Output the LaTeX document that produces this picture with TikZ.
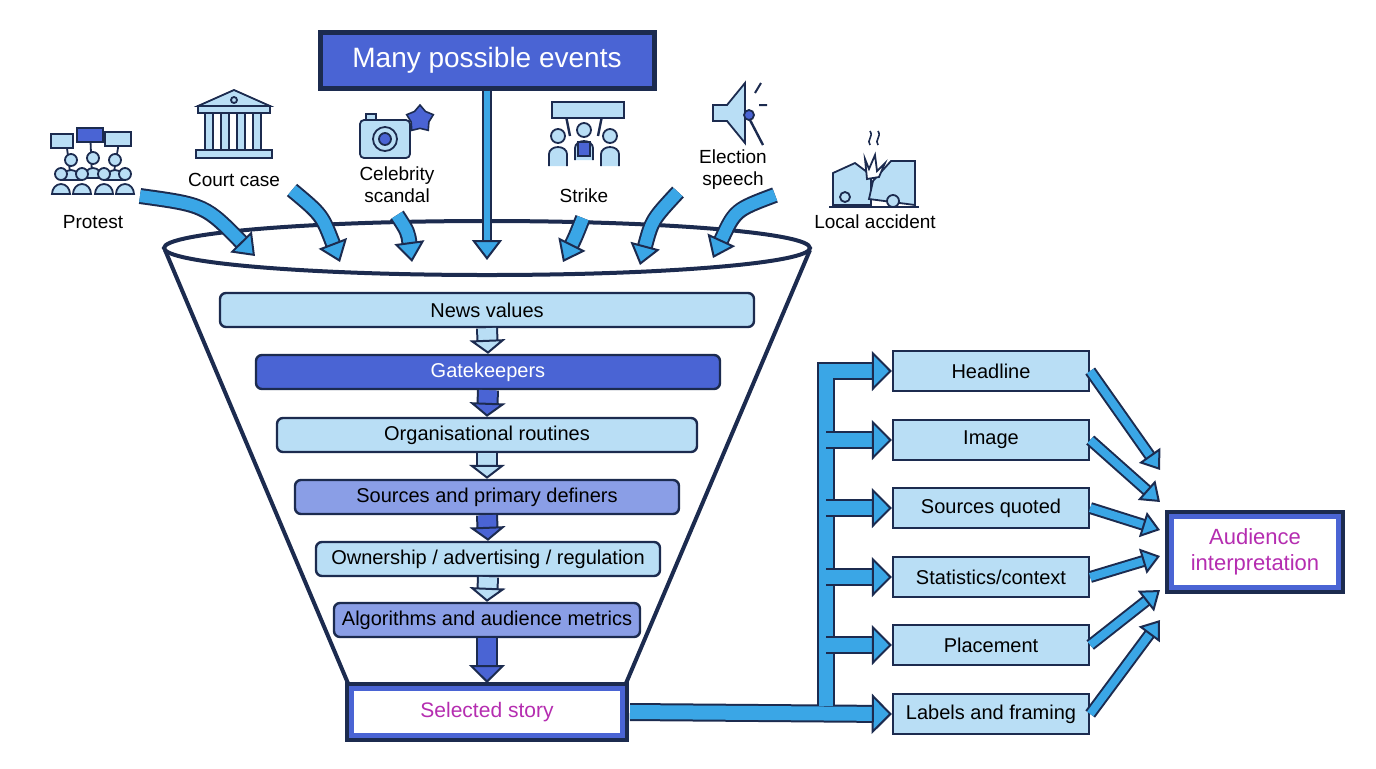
\documentclass[tikz,border=0pt]{standalone}
\usepackage{fontspec}
\setmainfont{Liberation Sans}
\usetikzlibrary{arrows.meta, positioning, shapes.geometric, calc}
\definecolor{navy}{HTML}{1C2B4F}
\definecolor{paleblue}{HTML}{B9DEF5}
\definecolor{midblue}{HTML}{4A64D4}
\definecolor{periwinkle}{HTML}{8A9EE6}
\definecolor{skyarrow}{HTML}{3AA6E6}
\definecolor{magentatext}{HTML}{B52DB0}
% #1 shaft, #2 head width, #3 head length, #4 fill, #5 path
\newcommand{\fatarrow}[5]{%
  \draw[draw=navy, line width=#1+2pt, shorten >=#3-1.5pt] #5;
  \draw[draw=#4, line width=#1, -{Triangle[width=#2, length=#3, fill=#4, color=navy, line width=1pt]}] #5;}
\tikzset{
  stage/.style={draw=navy, line width=1.2pt, rounded corners=3pt, minimum height=17pt, font=\fontsize{10}{12}\selectfont},
  facet/.style={draw=navy, line width=1.2pt, fill=paleblue, minimum width=98pt, minimum height=20pt, font=\fontsize{10}{12}\selectfont},
  event/.style={font=\fontsize{9.5}{11}\selectfont, align=center},
  icon/.style={draw=navy, line width=0.9pt, fill=paleblue},
}
\begin{document}
\begin{tikzpicture}[x=0.5pt, y=-0.5pt]
\useasboundingbox (0,0) rectangle (1376,768);

% top box
\node[draw=navy, line width=2.5pt, fill=midblue, text=white, minimum width=167pt, minimum height=28pt,
  font=\fontsize{14}{16}\selectfont] (many) at (487,60) {Many possible events};

% funnel body
\draw[navy, line width=2pt, fill=white] (165,250) -- (350,688) -- (624,688) -- (810,250);
\draw[navy, line width=2pt] (487,248) ellipse [x radius=323, y radius=27];

% events
\node[event] (protest)  at (93,222)  {Protest};
\node[event] (court)    at (234,180) {Court case};
\node[event] (celeb)    at (397,185) {Celebrity\\scandal};
\node[event] (strike)   at (584,196) {Strike};
\node[event] (election) at (733,170) {Election\\speech};
\node[event] (accident) at (875,222) {Local accident};

% icons
\begin{scope}[shift={(93,160)}]
  \draw[navy, line width=0.9pt] (-26,-12) -- (-22,20) (-3,-30) -- (-1,15) (26,-18) -- (20,18);
  \draw[icon] (-42,-26) rectangle (-20,-12);
  \draw[icon, fill=midblue] (-16,-32) rectangle (10,-18);
  \draw[icon] (12,-28) rectangle (38,-14);
  \foreach \px/\py in {-22/0,0/-2,22/0,-32/14,-11/14,11/14,32/14}
    \draw[icon] (\px-9,\py+20) arc (180:360:9 and 10) -- cycle (\px,\py) circle (6);
\end{scope}
\begin{scope}[shift={(234,128)}]
  \draw[icon] (-36,-22) -- (0,-38) -- (36,-22) -- cycle;
  \draw[icon] (-36,-22) rectangle (36,-15);
  \foreach \cx in {-26,-10,6,22} \draw[icon] (\cx-3,-15) rectangle (\cx+5,22);
  \draw[icon] (-38,22) rectangle (38,30);
  \draw[icon] (0,-28) circle (3);
\end{scope}
\begin{scope}[shift={(388,135)}]
  \draw[icon, rounded corners=2pt] (-28,-15) rectangle (22,23);
  \draw[icon] (-22,-15) rectangle (-12,-21);
  \draw[icon, fill=paleblue] (-3,4) circle (12);
  \draw[icon, fill=midblue] (-3,4) circle (6);
  \node[star, star points=5, fill=midblue, draw=navy, line width=0.8pt, minimum size=14pt, inner sep=0pt] (starshape) at (32,-16) {};
\end{scope}
\begin{scope}[shift={(584,130)}]
  \draw[navy, line width=1.2pt] (-14,6) -- (-18,-14) (14,6) -- (18,-14);
  \draw[icon] (-32,-28) rectangle (40,-12);
  \foreach \px/\py in {-26/6,0/0,26/6}
    \draw[icon] (\px-9,\py+30) -- (\px-9,\py+18) arc (180:360:9 and 7) -- (\px+9,\py+30) (\px,\py) circle (7);
  \draw[icon, fill=midblue] (-6,12) rectangle (6,26);
\end{scope}
\begin{scope}[shift={(735,115)}]
  \draw[icon] (-22,-10) -- (-8,-10) -- (10,-32) -- (10,28) -- (-8,6) -- (-22,6) -- cycle;
  \draw[navy, line width=1.2pt] (15,5) -- (28,30);
  \draw[icon, fill=midblue] (14,0) circle (5);
  \draw[navy, line width=1pt] (20,-22) -- (26,-32) (24,-10) -- (32,-10);
\end{scope}
\begin{scope}[shift={(875,185)}]
  \draw[icon] (-42,20) -- (-42,-12) -- (-20,-22) -- (-4,-10) -- (-4,20) -- cycle;
  \draw[icon] (-6,14) -- (-2,-4) -- (16,-24) -- (40,-24) -- (40,20) -- cycle;
  \draw[icon] (-30,12) circle (5) (18,16) circle (6);
  \draw[navy, line width=0.9pt] (-46,22) -- (44,22);
  \draw[icon, fill=white] (-10,-26) -- (-6,-16) -- (0,-30) -- (2,-14) -- (10,-22) -- (4,-8) -- (-8,-6) -- cycle;
  \draw[navy, line width=0.8pt] (-5,-40) .. controls (-9,-45) and (-1,-48) .. (-5,-54)
    (3,-40) .. controls (-1,-45) and (7,-48) .. (3,-54);
\end{scope}

% incoming arrows
\coordinate (in1) at (255,256);
\coordinate (in2) at (340,262);
\coordinate (in3) at (412,262);
\coordinate (in4) at (487,260);
\coordinate (in5) at (563,262);
\coordinate (in6) at (640,265);
\coordinate (in7) at (713,258);
\fatarrow{6pt}{15pt}{10pt}{skyarrow}{(140,196) .. controls (205,205) .. (in1)}
\fatarrow{6pt}{15pt}{10pt}{skyarrow}{(292,190) .. controls (322,215) .. (in2)}
\fatarrow{6pt}{15pt}{10pt}{skyarrow}{(397,215) .. controls (408,232) .. (in3)}
\fatarrow{3pt}{15pt}{10pt}{skyarrow}{(many.south) -- (in4)}
\fatarrow{6pt}{15pt}{10pt}{skyarrow}{(583,218) .. controls (575,238) .. (in5)}
\fatarrow{6pt}{15pt}{10pt}{skyarrow}{(678,192) .. controls (652,220) .. (in6)}
\fatarrow{6pt}{15pt}{10pt}{skyarrow}{(775,195) .. controls (735,210) .. (in7)}

% stages
\node[stage, fill=paleblue, minimum width=267pt] (values)  at (487,310) {News values};
\node[stage, fill=midblue, text=white, minimum width=232pt] (gate) at (488,372) {Gatekeepers};
\node[stage, fill=paleblue, minimum width=210pt] (routines) at (487,435) {Organisational routines};
\node[stage, fill=periwinkle, minimum width=192pt] (definers) at (487,497) {Sources and primary definers};
\node[stage, fill=paleblue, minimum width=172pt] (owner) at (488,559) {Ownership / advertising / regulation};
\node[stage, fill=periwinkle, minimum width=153pt] (algo) at (487,620) {Algorithms and audience metrics};
\node[draw=midblue, line width=3pt, fill=white, text=magentatext, minimum width=136pt, minimum height=24pt,
  font=\fontsize{10.5}{12}\selectfont] (story) at (487,712) {Selected story};
\draw[navy, line width=1.8pt] ([shift={(-0.6pt,0.6pt)}]story.north west) rectangle ([shift={(0.6pt,-0.6pt)}]story.south east);

\fatarrow{9pt}{18pt}{7pt}{paleblue}{(values.south) -- (gate.north)}
\fatarrow{9pt}{18pt}{7pt}{midblue}{(gate.south) -- (routines.north)}
\fatarrow{9pt}{18pt}{7pt}{paleblue}{(routines.south) -- (definers.north)}
\fatarrow{9pt}{18pt}{7pt}{midblue}{(definers.south) -- (owner.north)}
\fatarrow{9pt}{18pt}{7pt}{paleblue}{(owner.south) -- (algo.north)}
\fatarrow{9pt}{18pt}{9pt}{midblue}{(algo.south) -- ([yshift=1pt]story.north)}

% framing elements
\node[facet] (headline)  at (991,371) {Headline};
\node[facet] (image)     at (991,440) {Image};
\node[facet] (quoted)    at (991,508) {Sources quoted};
\node[facet] (stats)     at (991,577) {Statistics/context};
\node[facet] (placement) at (991,645) {Placement};
\node[facet] (labels)    at (991,714) {Labels and framing};

\coordinate (trunk) at (826,706);
\fatarrow{7pt}{20pt}{10pt}{skyarrow}{([xshift=2pt]story.east) -- (labels.west)}
\fatarrow{7pt}{20pt}{10pt}{skyarrow}{(trunk) |- (headline.west)}
\foreach \f in {image, quoted, stats, placement}
  \fatarrow{7pt}{20pt}{10pt}{skyarrow}{(trunk |- \f.west) -- (\f.west)};

% audience
\node[draw=midblue, line width=3pt, fill=white, text=magentatext, align=center, minimum width=84pt, minimum height=36pt,
  font=\fontsize{11}{13}\selectfont] (audience) at (1255,552) {Audience\\interpretation};
\draw[navy, line width=1.8pt] ([shift={(-0.6pt,0.6pt)}]audience.north west) rectangle ([shift={(0.6pt,-0.6pt)}]audience.south east);

\foreach \f/\dy in {headline/-82, image/-50, quoted/-22, stats/4, placement/38, labels/68}
  \fatarrow{4pt}{13pt}{9pt}{skyarrow}{(\f.east) -- ($(audience.west)+(-8,\dy)$)};
\end{tikzpicture}
\end{document}
